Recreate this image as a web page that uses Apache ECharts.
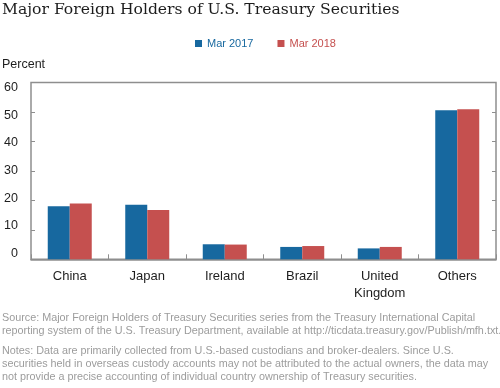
<!DOCTYPE html>
<html>
<head>
<meta charset="utf-8">
<script src="https://cdn.jsdelivr.net/npm/echarts@6/dist/echarts.min.js"></script>
<style>html,body{margin:0;padding:0;background:#fff}#c{width:500px;height:388px}</style>
</head>
<body>
<div id="c"></div>
<script>
const categories = ['China', 'Japan', 'Ireland', 'Brazil', 'United\nKingdom', 'Others'];
const mar2017 = [18.0, 18.5, 5.1, 4.2, 3.7, 50.6];
const mar2018 = [18.9, 16.7, 5.0, 4.5, 4.2, 50.9];
const seriesNames = ['Mar 2017', 'Mar 2018'];
const yTicks = [0, 10, 20, 30, 40, 50, 60];

const BLUE = '#17689f';
const RED = '#c5504f';
const FRAME = '#8e8e8e';
const sans = 'Liberation Sans, Arial, sans-serif';
const noteColor = '#9c9c9c';

const chart = echarts.init(document.getElementById('c'), null, {renderer: 'canvas'});
chart.setOption({
  animation: false,
  backgroundColor: '#fff',
  textStyle: {fontFamily: sans},
  legend: {
    data: seriesNames,
    left: 190, top: 33,
    icon: 'rect', itemWidth: 7, itemHeight: 7, itemGap: 24,
    selectedMode: false,
    formatter: n => '{' + (n === 'Mar 2017' ? 'a' : 'b') + '|' + n + '}',
    textStyle: {
      fontSize: 11, fontFamily: sans,
      rich: {a: {color: BLUE, fontSize: 11, fontFamily: sans}, b: {color: RED, fontSize: 11, fontFamily: sans}}
    }
  },
  grid: [
    {left: 31, right: 4, top: 82.5, bottom: 128.7, show: true, borderColor: FRAME, borderWidth: 1.5, containLabel: false},
    {left: 31, right: 4, top: 87.5, bottom: 134.5, show: false}
  ],
  xAxis: [
    {
      type: 'category', data: categories, gridIndex: 0,
      axisLine: {show: true, lineStyle: {color: FRAME, width: 1.5}},
      axisTick: {show: true, inside: true, length: 5, lineStyle: {color: FRAME}},
      axisLabel: {fontSize: 13, color: '#1e1e1e', margin: 9, lineHeight: 17, fontFamily: sans}
    },
    {type: 'category', data: categories, gridIndex: 1, show: false}
  ],
  yAxis: [
    {
      type: 'value', gridIndex: 0, min: 0, max: 60, interval: 10,
      axisLine: {show: false},
      axisTick: {show: true, inside: true, length: 4, lineStyle: {color: FRAME}},
      axisLabel: {show: false},
      splitLine: {show: false}
    },
    {
      type: 'value', gridIndex: 0, min: 0, max: 60, interval: 10, position: 'right',
      axisLine: {show: false},
      axisTick: {show: true, inside: true, length: 4, lineStyle: {color: FRAME}},
      axisLabel: {show: false},
      splitLine: {show: false}
    },
    {
      type: 'value', gridIndex: 1, min: 0, max: 60, interval: 10,
      axisLine: {show: false}, axisTick: {show: false}, splitLine: {show: false},
      axisLabel: {fontSize: 12.5, color: '#1e1e1e', margin: 13, fontFamily: sans,
        customValues: yTicks}
    }
  ],
  series: [
    {name: seriesNames[0], type: 'bar', data: mar2017, xAxisIndex: 0, yAxisIndex: 0,
     barWidth: 22, barGap: '0%', itemStyle: {color: BLUE}},
    {name: seriesNames[1], type: 'bar', data: mar2018, xAxisIndex: 0, yAxisIndex: 0,
     barWidth: 22, barGap: '0%', itemStyle: {color: RED}}
  ],
  graphic: [
    {type: 'text', left: 2, top: 2, style: {text: 'Major Foreign Holders of U.S. Treasury Securities',
      font: '15.6px "DejaVu Serif", Georgia, serif', fill: '#1c1c1c'}},
    {type: 'text', left: 2, top: 58, style: {text: 'Percent', font: '12.5px ' + sans, fill: '#1e1e1e'}},
    {type: 'text', left: 2, top: 311, style: {
      text: 'Source: Major Foreign Holders of Treasury Securities series from the Treasury International Capital\nreporting system of the U.S. Treasury Department, available at http://ticdata.treasury.gov/Publish/mfh.txt.',
      font: '10.8px ' + sans, fill: noteColor, lineHeight: 13.5}},
    {type: 'text', left: 2, top: 345, style: {
      text: 'Notes: Data are primarily collected from U.S.-based custodians and broker-dealers. Since U.S.\nsecurities held in overseas custody accounts may not be attributed to the actual owners, the data may\nnot provide a precise accounting of individual country ownership of Treasury securities.',
      font: '10.8px ' + sans, fill: noteColor, lineHeight: 12.8}}
  ]
});
</script>
</body>
</html>
